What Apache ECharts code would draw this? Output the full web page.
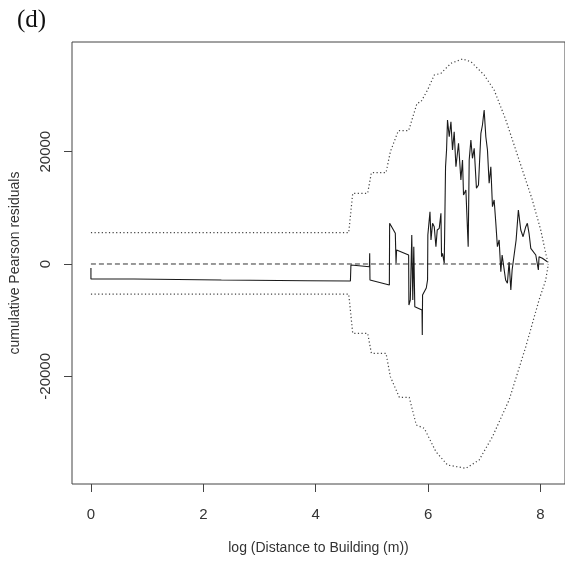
<!DOCTYPE html>
<html>
<head>
<meta charset="utf-8">
<script src="https://cdn.jsdelivr.net/npm/echarts@6/dist/echarts.min.js"></script>
<style>
  html, body { margin: 0; padding: 0; background: #fff; }
  #chart { width: 565px; height: 562px; }
</style>
</head>
<body>
<div id="chart"></div>
<script>
// cumulative Pearson residual (solid)
const residX = [0, 0, 0.764, 0.764, 2.321, 3.854, 4.618, 4.627, 4.956, 4.961, 4.966, 5.311, 5.316, 5.417, 5.430, 5.440,
  5.654, 5.659, 5.684, 5.710, 5.728, 5.746, 5.764, 5.892, 5.897, 5.902, 5.968, 5.991, 5.996, 6.034, 6.052, 6.080,
  6.110, 6.140, 6.163, 6.199, 6.229, 6.240, 6.258, 6.288, 6.306, 6.311, 6.329, 6.346, 6.377, 6.407, 6.435, 6.465,
  6.496, 6.542, 6.584, 6.613, 6.631, 6.673, 6.714, 6.732, 6.762, 6.790, 6.821, 6.861, 6.897, 6.940, 6.968, 6.998,
  7.028, 7.057, 7.087, 7.117, 7.146, 7.176, 7.206, 7.234, 7.265, 7.295, 7.318, 7.353, 7.380, 7.412, 7.442, 7.473,
  7.496, 7.531, 7.567, 7.607, 7.650, 7.691, 7.739, 7.767, 7.797, 7.828, 7.856, 7.917, 7.945, 7.963, 7.975, 8.034,
  8.064, 8.123]
const residY = [-712, -2671, -2671, -2796, -2850, -2974, -3028, -178, -481, 1906, -2850, -3740, 7249, 5468, 125, 2493,
  1603, -7302, -6412, 5165, -6412, 3081, -7605, -8193, -12645, -5521, -4274, -2850, 5165, 9315, 4274, 7249,
  6643, 3081, 6055, 6358, 9030, 1300, 1906, 125, 125, 17329, 20303, 25646, 22672, 25344, 20303, 23563,
  17329, 21497, 14960, 18522, 12289, 13179, 3081, 18522, 22084, 18825, 20606, 13482, 14070, 23277, 24756, 27427,
  22672, 20303, 14372, 17329, 10205, 11398, 7249, 3081, 4274, -1371, 1603, 1906, -2850, -3437, 356, -4631,
  -1069, -1069, 4274, 9617, 6055, 4862, 6643, 7249, 5468, 2796, 2493, 1603, 1603, -1069, 1300, 1015,
  1015, 410]

// upper envelope (dotted)
const upperX = [0, 4.588, 4.659, 4.925, 4.991, 5.252, 5.329, 5.471, 5.654, 5.803, 5.874, 5.991, 6.110, 6.229,
  6.407, 6.613, 6.762, 6.998, 7.176, 7.384, 7.620, 7.856, 8.005, 8.094, 8.140]
const upperY = [5575, 5575, 12590, 12590, 16260, 16260, 20000, 23740, 23740, 28620, 28900, 30990, 33660, 33960,
  35740, 36510, 36030, 33660, 30990, 25650, 18520, 11400, 6055, 1900, 0]

// lower envelope (dotted)
const lowerX = [0, 4.588, 4.659, 4.925, 4.991, 5.252, 5.329, 5.488, 5.665, 5.790, 5.932, 6.140, 6.346, 6.673,
  6.909, 7.146, 7.442, 7.739, 7.975, 8.094, 8.140]
const lowerY = [-5350, -5350, -12340, -12340, -15900, -15900, -20070, -23740, -23740, -28670, -29260, -33430,
  -35800, -36390, -34910, -30760, -24220, -14730, -6410, -2850, 0]

// reference line at zero (dashed)
const zeroX = [0, 8.12]
const zeroY = [0, 0]

const xTicks = [0, 2, 4, 6, 8]
const yTicks = [-20000, 0, 20000]

const pairs = (xs, ys) => xs.map((x, i) => [x, ys[i]])

const textColor = '#333'
const lineColor = '#444'

const chart = echarts.init(document.getElementById('chart'))

chart.setOption({
  animation: false,
  title: {
    text: '(d)',
    left: 12,
    top: 3,
    textStyle: { fontFamily: 'Liberation Serif', fontSize: 25, fontWeight: 'normal', color: '#111' }
  },
  grid: {
    left: 72,
    top: 42,
    width: 494,
    height: 442,
    show: true,
    borderColor: lineColor,
    borderWidth: 1,
    backgroundColor: 'transparent'
  },
  xAxis: {
    type: 'value',
    min: -0.337,
    max: 8.437,
    name: 'log (Distance to Building (m))',
    nameLocation: 'middle',
    nameGap: 57,
    nameTextStyle: { fontFamily: 'Liberation Sans', fontSize: 14, color: textColor },
    axisLine: { show: false, onZero: false },
    splitLine: { show: false },
    axisTick: { show: true, inside: false, length: 8, customValues: xTicks, lineStyle: { color: lineColor } },
    axisLabel: {
      customValues: xTicks, margin: 23, fontFamily: 'Liberation Sans', fontSize: 15, color: textColor,
      formatter: v => String(v)
    }
  },
  yAxis: {
    type: 'value',
    min: -39182,
    max: 39538,
    name: 'cumulative Pearson residuals',
    nameLocation: 'middle',
    nameGap: 50,
    nameTextStyle: { fontFamily: 'Liberation Sans', fontSize: 14, color: textColor },
    axisLine: { show: false, onZero: false },
    splitLine: { show: false },
    axisTick: { show: true, inside: false, length: 8, customValues: yTicks, lineStyle: { color: lineColor } },
    axisLabel: {
      customValues: yTicks, rotate: 90, margin: 19, fontFamily: 'Liberation Sans', fontSize: 15, color: textColor,
      formatter: v => String(v)
    }
  },
  series: [
    {
      name: 'upper',
      type: 'line',
      data: pairs(upperX, upperY),
      showSymbol: false,
      lineStyle: { color: '#444', width: 1.2, type: [1.2, 2.4] }
    },
    {
      name: 'lower',
      type: 'line',
      data: pairs(lowerX, lowerY),
      showSymbol: false,
      lineStyle: { color: '#444', width: 1.2, type: [1.2, 2.4] }
    },
    {
      name: 'zero',
      type: 'line',
      data: pairs(zeroX, zeroY),
      showSymbol: false,
      lineStyle: { color: '#333', width: 1, type: [5, 3] }
    },
    {
      name: 'residual',
      type: 'line',
      data: pairs(residX, residY),
      showSymbol: false,
      lineStyle: { color: '#1a1a1a', width: 1.1 }
    }
  ]
})
</script>
</body>
</html>
